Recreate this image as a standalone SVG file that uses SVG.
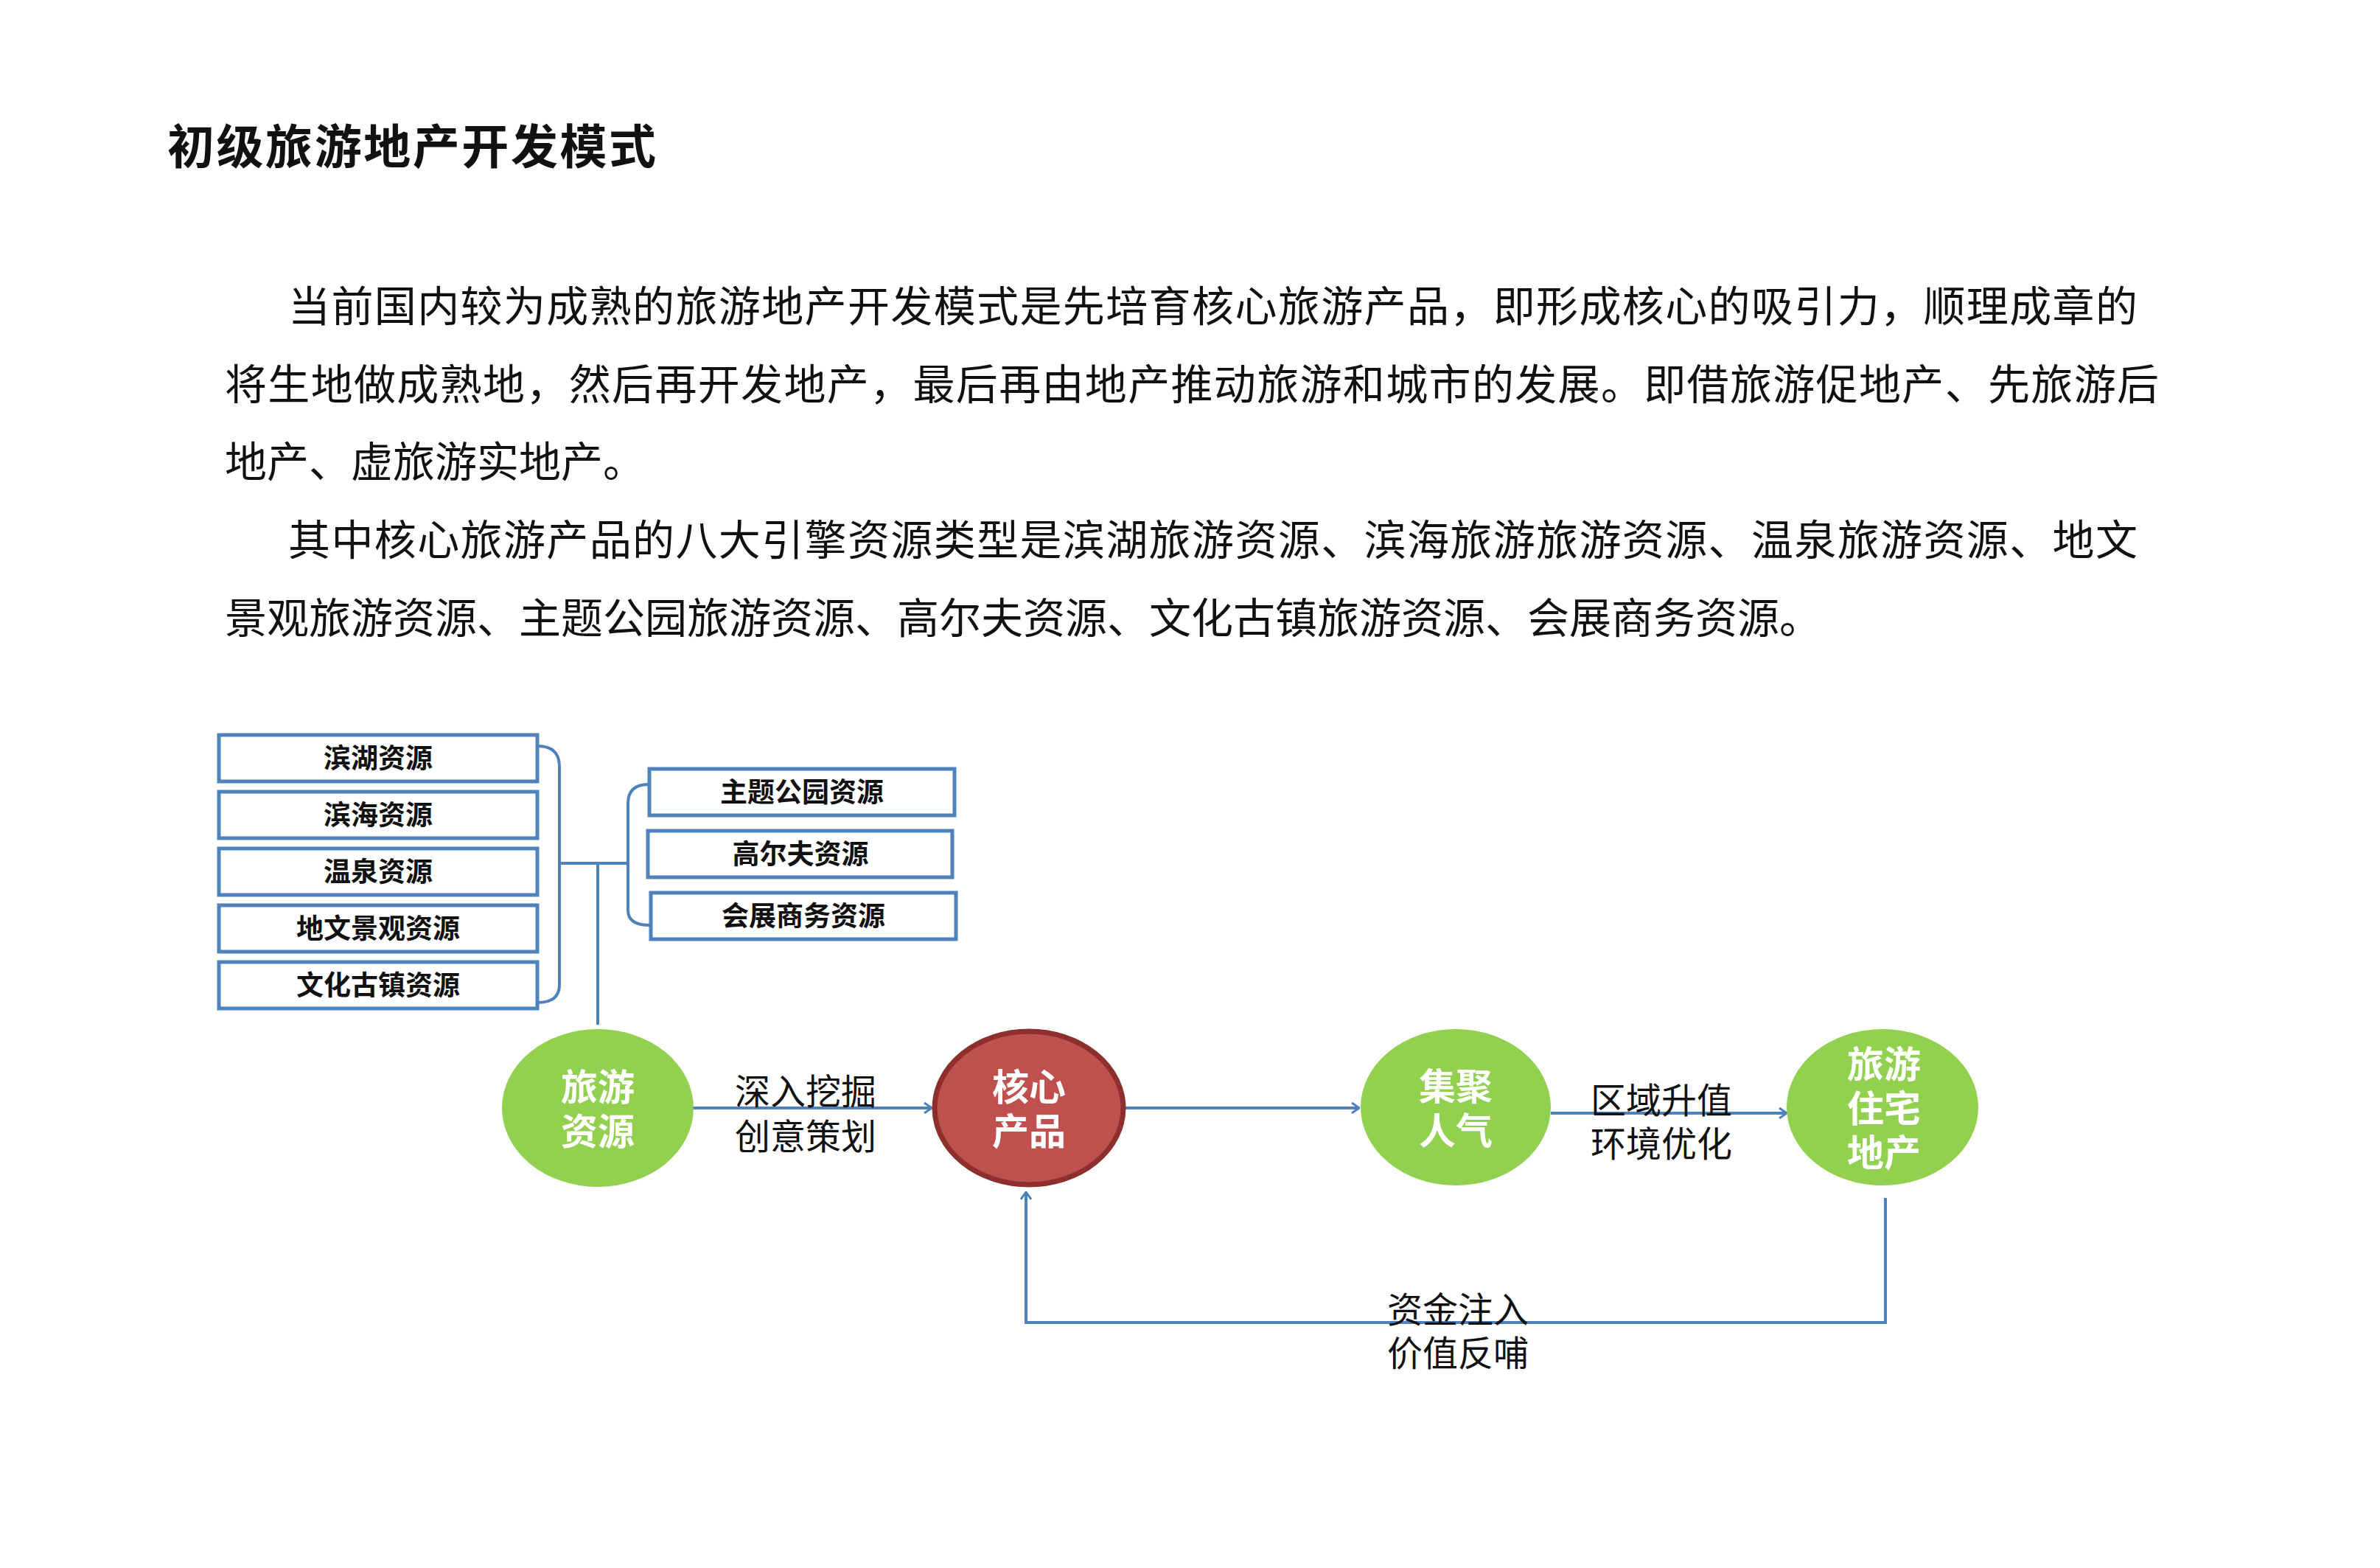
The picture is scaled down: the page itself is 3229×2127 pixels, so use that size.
<svg xmlns="http://www.w3.org/2000/svg" width="3229" height="2127" viewBox="0 0 3229 2127">
<style>
.t{font-family:"Noto Sans CJK SC","Noto Sans",sans-serif;fill:#111}
.b{font-family:"Noto Sans CJK SC","Noto Sans",sans-serif;font-weight:bold;fill:#111;font-size:37px;text-anchor:middle}
.w{font-family:"Noto Sans CJK SC","Noto Sans",sans-serif;font-weight:bold;fill:#fff;font-size:50px;text-anchor:middle}
.l{font-family:"Noto Sans CJK SC","Noto Sans",sans-serif;fill:#111;font-size:48px;text-anchor:middle}
.box{fill:#fff;stroke:#4f81bd;stroke-width:5}
.ln{fill:none;stroke:#4f81bd;stroke-width:4}
</style>
<defs>
<marker id="a" markerWidth="12" markerHeight="16" refX="11" refY="8" orient="auto" markerUnits="userSpaceOnUse"><path d="M1,1 L11,8 L1,15" fill="none" stroke="#4f81bd" stroke-width="3"/></marker>
</defs>
<rect width="3229" height="2127" fill="#fff"/>
<text class="t" x="227" y="222" font-size="64" font-weight="bold" textLength="663">初级旅游地产开发模式</text>
<g class="t" font-size="57">
<text x="391" y="436" textLength="2509">当前国内较为成熟的旅游地产开发模式是先培育核心旅游产品，即形成核心的吸引力，顺理成章的</text>
<text x="305" y="542" textLength="2624">将生地做成熟地，然后再开发地产，最后再由地产推动旅游和城市的发展。即借旅游促地产、先旅游后</text>
<text x="305" y="647">地产、虚旅游实地产。</text>
<text x="391" y="753" textLength="2509">其中核心旅游产品的八大引擎资源类型是滨湖旅游资源、滨海旅游旅游资源、温泉旅游资源、地文</text>
<text x="305" y="859">景观旅游资源、主题公园旅游资源、高尔夫资源、文化古镇旅游资源、会展商务资源。</text>
</g>
<g id="connectors">
<path class="ln" d="M729,1012 Q759,1012 759,1040 L759,1336 Q759,1360 729,1360"/>
<path class="ln" d="M759,1171 L852,1171"/>
<path class="ln" d="M880,1064 Q852,1064 852,1090 L852,1235 Q852,1255 882,1255"/>
<path class="ln" d="M811,1171 L811,1390"/>
<path class="ln" d="M940,1503 L1264,1503" marker-end="url(#a)"/>
<path class="ln" d="M1527,1503 L1844,1503" marker-end="url(#a)"/>
<path class="ln" d="M2104,1510 L2424,1510" marker-end="url(#a)"/>
<path class="ln" d="M2558,1625 L2558,1794 L1392,1794 L1392,1617" marker-end="url(#a)"/>
</g>
<g id="n1"><rect class="box" x="297" y="997" width="432" height="63"/><text class="b" x="513" y="1042">滨湖资源</text></g>
<g id="n2"><rect class="box" x="297" y="1074" width="432" height="63"/><text class="b" x="513" y="1119">滨海资源</text></g>
<g id="n3"><rect class="box" x="297" y="1151" width="432" height="63"/><text class="b" x="513" y="1196">温泉资源</text></g>
<g id="n4"><rect class="box" x="297" y="1228" width="432" height="63"/><text class="b" x="513" y="1273">地文景观资源</text></g>
<g id="n5"><rect class="box" x="297" y="1305" width="432" height="63"/><text class="b" x="513" y="1350">文化古镇资源</text></g>
<g id="n6"><rect class="box" x="881" y="1043" width="414" height="63"/><text class="b" x="1088" y="1088">主题公园资源</text></g>
<g id="n7"><rect class="box" x="879" y="1127" width="413" height="63"/><text class="b" x="1086" y="1172">高尔夫资源</text></g>
<g id="n8"><rect class="box" x="883" y="1211" width="414" height="63"/><text class="b" x="1090" y="1256">会展商务资源</text></g>
<g id="n9"><ellipse cx="811" cy="1503" rx="130" ry="107" fill="#92d050"/><text class="w" x="811" y="1493">旅游</text><text class="w" x="811" y="1553">资源</text></g>
<g id="n10"><ellipse cx="1396" cy="1503" rx="128" ry="104" fill="#c0504d" stroke="#8c2f2d" stroke-width="7"/><text class="w" x="1396" y="1493">核心</text><text class="w" x="1396" y="1553">产品</text></g>
<g id="n11"><ellipse cx="1975" cy="1502" rx="129" ry="106" fill="#92d050"/><text class="w" x="1975" y="1492">集聚</text><text class="w" x="1975" y="1552">人气</text></g>
<g id="n12"><ellipse cx="2554" cy="1502" rx="130" ry="106" fill="#92d050"/><text class="w" x="2556" y="1462">旅游</text><text class="w" x="2556" y="1522">住宅</text><text class="w" x="2556" y="1582">地产</text></g>
<g id="labels">
<text class="l" x="1093" y="1498">深入挖掘</text><text class="l" x="1093" y="1559">创意策划</text>
<text class="l" x="2254" y="1510">区域升值</text><text class="l" x="2254" y="1569">环境优化</text>
<text class="l" x="1978" y="1794">资金注入</text><text class="l" x="1978" y="1853">价值反哺</text>
</g>
</svg>
